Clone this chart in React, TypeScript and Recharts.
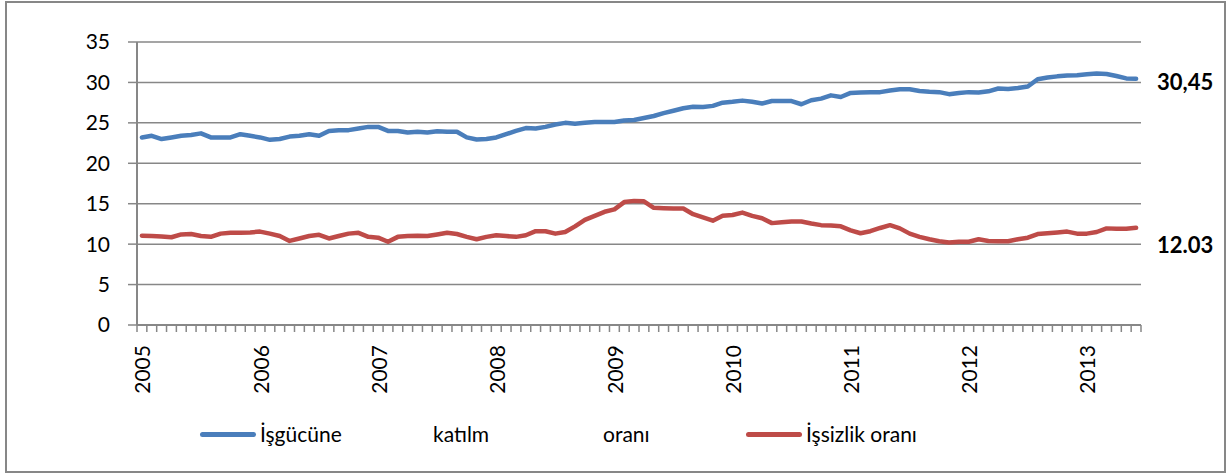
import React from 'react';
import { LineChart, Line, XAxis, YAxis, CartesianGrid, Legend, LabelList } from 'recharts';

// monthly, Jan 2005 .. Jun 2013
const years = ['2005', '2006', '2007', '2008', '2009', '2010', '2011', '2012', '2013'];

const participation = [
    23.2, 23.4, 23.0, 23.2, 23.4, 23.5, 23.7, 23.2, 23.2, 23.2, 23.6, 23.4,
    23.2, 22.9, 23.0, 23.3, 23.4, 23.6, 23.4, 24.0, 24.1, 24.1, 24.3, 24.5,
    24.5, 24.0, 24.0, 23.8, 23.9, 23.8, 23.95, 23.9, 23.9, 23.2, 22.95, 23.0,
    23.2, 23.6, 24.0, 24.35, 24.3, 24.5, 24.8, 25.0, 24.9, 25.0, 25.1, 25.1,
    25.1, 25.3, 25.35, 25.6, 25.85, 26.2, 26.5, 26.8, 27.0, 26.95, 27.1, 27.5,
    27.6, 27.75, 27.6, 27.4, 27.7, 27.7, 27.7, 27.3, 27.8, 28.0, 28.4, 28.2,
    28.7, 28.75, 28.8, 28.8, 29.0, 29.15, 29.15, 28.95, 28.85, 28.8, 28.55, 28.7,
    28.8, 28.75, 28.9, 29.25, 29.2, 29.3, 29.5, 30.4, 30.6, 30.75, 30.85, 30.9,
    31.0, 31.1, 31.05, 30.8, 30.5, 30.45,
];

const unemployment = [
    11.05, 11.0, 10.95, 10.85, 11.2, 11.25, 11.0, 10.9, 11.3, 11.4, 11.4, 11.45,
    11.55, 11.3, 11.0, 10.4, 10.7, 11.0, 11.15, 10.7, 11.0, 11.3, 11.4, 10.9,
    10.8, 10.3, 10.9, 11.0, 11.05, 11.0, 11.2, 11.4, 11.25, 10.9, 10.6, 10.9,
    11.1, 11.0, 10.9, 11.1, 11.6, 11.6, 11.3, 11.5, 12.2, 13.0, 13.5, 14.0,
    14.3, 15.2, 15.35, 15.3, 14.5, 14.45, 14.4, 14.4, 13.7, 13.3, 12.9, 13.5,
    13.6, 13.9, 13.5, 13.2, 12.6, 12.7, 12.8, 12.8, 12.55, 12.35, 12.3, 12.2,
    11.7, 11.35, 11.6, 12.0, 12.35, 11.95, 11.3, 10.9, 10.6, 10.35, 10.2, 10.3,
    10.3, 10.6, 10.4, 10.35, 10.35, 10.6, 10.8, 11.25, 11.35, 11.45, 11.55, 11.3,
    11.3, 11.5, 11.95, 11.9, 11.9, 12.03,
];

const seriesNames = ['İşgücüne katılm oranı', 'İşsizlik oranı'];
const endLabels = ['30,45', '12.03'];
const yTicks = [0, 5, 10, 15, 20, 25, 30, 35];

const data = participation.map((p, i) => ({ i, p, u: unemployment[i] }));
const last = data.length - 1;
// tick marks sit between months, year labels on each January
const monthEdges = Array.from({ length: data.length + 1 }, (_, k) => k - 0.5);
const yearStarts = years.map((_, k) => k * 12);

const FONT = 'Lato, "Open Sans", sans-serif';
const BLUE = '#4a7ebb';
const RED = '#be4b48';
const GRAY = '#878787';

const NoLabel = () => <g />;

const YearTick = ({ x, y, payload }: any) => (
    <text
        x={x}
        y={y}
        transform={`rotate(-90 ${x} ${y})`}
        textAnchor="end"
        dominantBaseline="central"
        fontSize={21}
        fontFamily={FONT}
        fill="#000"
    >
        {years[Math.round(payload.value / 12)]}
    </text>
);

const endLabel = (text: string, dy: number) => (props: any) => {
    if (props.index !== last) return null;
    return (
        <text
            x={props.x + 21}
            y={props.y + dy}
            dominantBaseline="central"
            fontSize={22}
            fontWeight={700}
            fontFamily={FONT}
            fill="#000"
        >
            {text}
        </text>
    );
};

const renderLegend = () => {
    const words = seriesNames[0].split(' ');
    const textStyle: React.CSSProperties = { position: 'absolute', top: 0, lineHeight: '34px' };
    const swatch = (left: number, color: string): React.CSSProperties => ({
        position: 'absolute', left, top: 15, width: 56, height: 5, borderRadius: 3, background: color,
    });
    return (
        <div style={{ position: 'relative', height: 34, fontFamily: FONT, fontSize: 21, color: '#000' }}>
            <span style={swatch(200, BLUE)} />
            <span style={{ ...textStyle, left: 260 }}>{words[0]}</span>
            <span style={{ ...textStyle, left: 433 }}>{words[1]}</span>
            <span style={{ ...textStyle, left: 603 }}>{words[2]}</span>
            <span style={swatch(746, RED)} />
            <span style={{ ...textStyle, left: 806 }}>{seriesNames[1]}</span>
        </div>
    );
};

export default function App() {
    return (
        <div style={{ position: 'absolute', left: 0, top: 0, width: 1226, height: 473, background: '#fff' }}>
            <div
                style={{
                    position: 'absolute', left: 5, top: 1, width: 1217, height: 468,
                    border: `2px solid ${GRAY}`,
                }}
            />
            <LineChart
                width={1226}
                height={473}
                data={data}
                margin={{ top: 42, right: 85, left: 0, bottom: 0 }}
            >
                <CartesianGrid xAxisId="m" vertical={false} stroke={GRAY} strokeWidth={1.5} />
                <XAxis
                    xAxisId="m"
                    type="number"
                    dataKey="i"
                    domain={[-0.5, last + 0.5]}
                    allowDataOverflow
                    ticks={monthEdges}
                    interval={0}
                    tick={<NoLabel />}
                    tickSize={7}
                    height={8}
                    axisLine={{ stroke: GRAY, strokeWidth: 2 }}
                    tickLine={{ stroke: GRAY, strokeWidth: 1.5 }}
                />
                <XAxis
                    xAxisId="yr"
                    type="number"
                    dataKey="i"
                    domain={[-0.5, last + 0.5]}
                    allowDataOverflow
                    ticks={yearStarts}
                    interval={0}
                    tick={<YearTick />}
                    tickLine={false}
                    axisLine={false}
                    tickSize={0}
                    tickMargin={12}
                    height={106}
                />
                <YAxis
                    domain={[0, 35]}
                    ticks={yTicks}
                    interval={0}
                    width={137}
                    tickSize={9}
                    tickMargin={18}
                    axisLine={{ stroke: GRAY, strokeWidth: 2 }}
                    tickLine={{ stroke: GRAY, strokeWidth: 1.5 }}
                    tick={{ fill: '#000', fontSize: 21, fontFamily: FONT }}
                />
                <Legend
                    verticalAlign="bottom"
                    content={renderLegend}
                    wrapperStyle={{ left: 0, width: 1226, height: 34, bottom: 22 }}
                />
                <Line
                    xAxisId="m"
                    type="linear"
                    dataKey="p"
                    name={seriesNames[0]}
                    stroke={BLUE}
                    strokeWidth={4.5}
                    strokeLinejoin="round"
                    strokeLinecap="round"
                    dot={false}
                    isAnimationActive={false}
                >
                    <LabelList dataKey="p" content={endLabel(endLabels[0], 3)} />
                </Line>
                <Line
                    xAxisId="m"
                    type="linear"
                    dataKey="u"
                    name={seriesNames[1]}
                    stroke={RED}
                    strokeWidth={4.5}
                    strokeLinejoin="round"
                    strokeLinecap="round"
                    dot={false}
                    isAnimationActive={false}
                >
                    <LabelList dataKey="u" content={endLabel(endLabels[1], 17)} />
                </Line>
            </LineChart>
        </div>
    );
}
